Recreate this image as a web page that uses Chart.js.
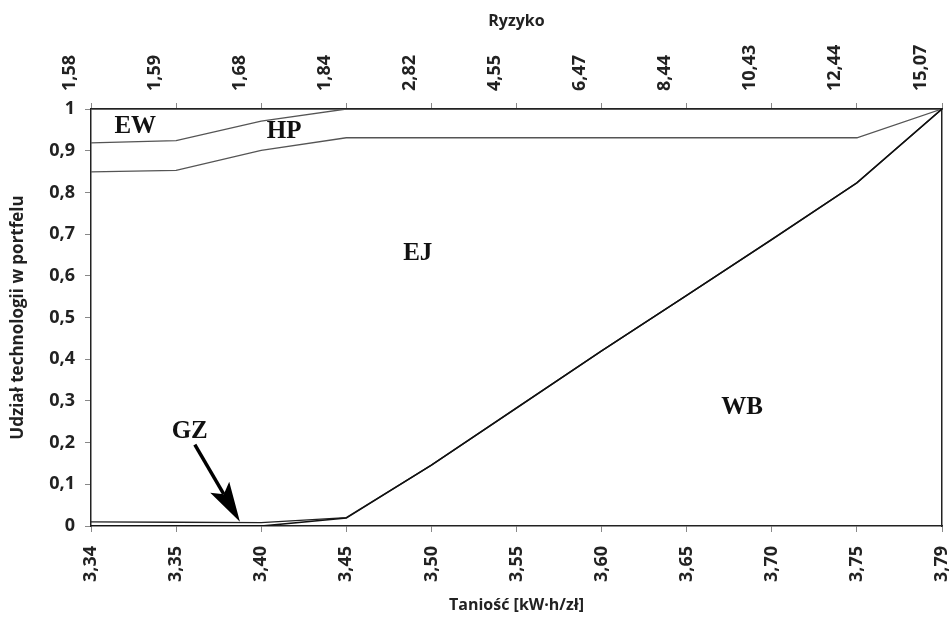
<!DOCTYPE html>
<html>
<head>
<meta charset="utf-8">
<script src="https://cdn.jsdelivr.net/npm/chart.js@4"></script>
<style>
  html, body { margin: 0; padding: 0; background: #fff; }
  #wrap { width: 951px; height: 620px; }
</style>
</head>
<body>
<div id="wrap"><canvas id="chart"></canvas></div>
<script>
// bottom axis: cost (Taniość), top axis: risk (Ryzyko)
const costLabels = ['3,34', '3,35', '3,40', '3,45', '3,50', '3,55', '3,60', '3,65', '3,70', '3,75', '3,79'];
const riskLabels = ['1,58', '1,59', '1,68', '1,84', '2,82', '4,55', '6,47', '8,44', '10,43', '12,44', '15,07'];

// share of each technology in the portfolio (stacked bottom to top)
const wb = [0, 0, 0, 0.019, 0.146, 0.283, 0.42, 0.553, 0.687, 0.823, 1.0];
const gz = [0.01, 0.009, 0.008, 0.001, 0, 0, 0, 0, 0, 0, 0];
const ej = [0.839, 0.844, 0.893, 0.911, 0.785, 0.648, 0.511, 0.378, 0.244, 0.108, 0];
const hp = [0.07, 0.071, 0.07, 0.069, 0.069, 0.069, 0.069, 0.069, 0.069, 0.069, 0];
const ew = [0.081, 0.076, 0.029, 0, 0, 0, 0, 0, 0, 0, 0];

// region labels placed in data coordinates (category index, share)
const regionLabels = [
    { text: 'EW', x: 0.52, y: 0.958 },
    { text: 'HP', x: 2.27, y: 0.946 },
    { text: 'EJ', x: 3.84, y: 0.653 },
    { text: 'WB', x: 7.65, y: 0.283 },
    { text: 'GZ', x: 1.16, y: 0.226 }
];
const gzArrow = { from: [1.22, 0.195], to: [1.75, 0.01] };

const tickFont = { family: 'Open Sans', size: 18, weight: 'bold' };
const titleFont = { family: 'Open Sans', size: 16, weight: 'bold' };
const axisColor = '#222';

const lineSet = (label, data, color, width) => ({
    label, data,
    borderColor: color,
    borderWidth: width,
    pointRadius: 0,
    fill: false,
    tension: 0
});

const noSidePad = s => { s.paddingLeft = 0; s.paddingRight = 0; };

const annotations = {
    id: 'annotations',
    afterDatasetsDraw(chart) {
        const { ctx, scales: { x, y } } = chart;
        ctx.save();
        ctx.fillStyle = '#111';
        ctx.font = 'bold 25px "Liberation Serif"';
        ctx.textAlign = 'center';
        ctx.textBaseline = 'middle';
        regionLabels.forEach(l => {
            ctx.fillText(l.text, x.getPixelForValue(l.x), y.getPixelForValue(l.y));
        });

        const x1 = x.getPixelForValue(gzArrow.from[0]);
        const y1 = y.getPixelForValue(gzArrow.from[1]);
        const x2 = x.getPixelForValue(gzArrow.to[0]);
        const y2 = y.getPixelForValue(gzArrow.to[1]);
        const ang = Math.atan2(y2 - y1, x2 - x1);
        const headLen = 32;
        const bx = x2 - headLen * Math.cos(ang);
        const by = y2 - headLen * Math.sin(ang);
        ctx.strokeStyle = '#000';
        ctx.lineWidth = 3.5;
        ctx.beginPath();
        ctx.moveTo(x1, y1);
        ctx.lineTo(bx, by);
        ctx.stroke();
        const nx = -Math.sin(ang), ny = Math.cos(ang);
        const back = 8;
        ctx.fillStyle = '#000';
        ctx.beginPath();
        ctx.moveTo(x2, y2);
        ctx.lineTo(bx - back * Math.cos(ang) + 11 * nx, by - back * Math.sin(ang) + 11 * ny);
        ctx.lineTo(bx, by);
        ctx.lineTo(bx - back * Math.cos(ang) - 11 * nx, by - back * Math.sin(ang) - 11 * ny);
        ctx.closePath();
        ctx.fill();
        ctx.restore();
    }
};

new Chart(document.getElementById('chart'), {
    type: 'line',
    data: {
        labels: costLabels,
        datasets: [
            lineSet('WB', wb, '#111', 1.6),
            lineSet('GZ', gz, '#222', 1.4),
            lineSet('EJ', ej, '#555', 1.3),
            lineSet('HP', hp, '#555', 1.3),
            lineSet('EW', ew, '#555', 1.3)
        ]
    },
    plugins: [annotations],
    options: {
        responsive: true,
        maintainAspectRatio: false,
        animation: false,
        layout: { padding: 0 },
        plugins: { legend: { display: false }, tooltip: { enabled: false } },
        scales: {
            x: {
                type: 'category',
                position: 'bottom',
                offset: false,
                grid: { display: true, drawOnChartArea: false, drawTicks: true, tickLength: 6, color: '#888' },
                border: { display: true, color: axisColor, width: 1.5 },
                ticks: { color: '#222', font: tickFont, minRotation: 90, maxRotation: 90, padding: 14, autoSkip: false },
                title: { display: true, text: 'Taniość [kW·h/zł]', color: '#222', font: titleFont, padding: { top: 0, bottom: 5 } },
                afterFit: s => { noSidePad(s); s.height = 94; }
            },
            x2: {
                type: 'category',
                position: 'top',
                labels: riskLabels,
                offset: false,
                grid: { display: true, drawOnChartArea: false, drawTicks: true, tickLength: 6, color: '#888' },
                border: { display: true, color: axisColor, width: 1.5 },
                ticks: { color: '#222', font: tickFont, minRotation: 90, maxRotation: 90, padding: 12, autoSkip: false },
                title: { display: true, text: 'Ryzyko', color: '#222', font: titleFont, padding: { top: 12, bottom: 2 } },
                afterFit: s => { noSidePad(s); s.height = 109; }
            },
            y: {
                stacked: true,
                min: 0,
                max: 1,
                grid: { display: true, drawOnChartArea: false, drawTicks: true, tickLength: 6, color: '#888' },
                border: { display: true, color: axisColor, width: 1.5 },
                ticks: {
                    stepSize: 0.1,
                    color: '#222',
                    font: tickFont,
                    padding: 10,
                    callback: v => (v === 0 || v === 1) ? String(v) : v.toFixed(1).replace('.', ',')
                },
                title: { display: true, text: 'Udział technologii w portfelu', color: '#222', font: { family: 'Open Sans', size: 17, weight: 'bold' }, padding: { top: 8, bottom: 0 } },
                afterFit: s => { s.width = 91; }
            },
            y2: {
                position: 'right',
                min: 0,
                max: 1,
                grid: { display: false },
                border: { display: true, color: axisColor, width: 1.5 },
                ticks: { display: false },
                afterFit: s => { s.width = 9; }
            }
        }
    }
});
</script>
</body>
</html>
